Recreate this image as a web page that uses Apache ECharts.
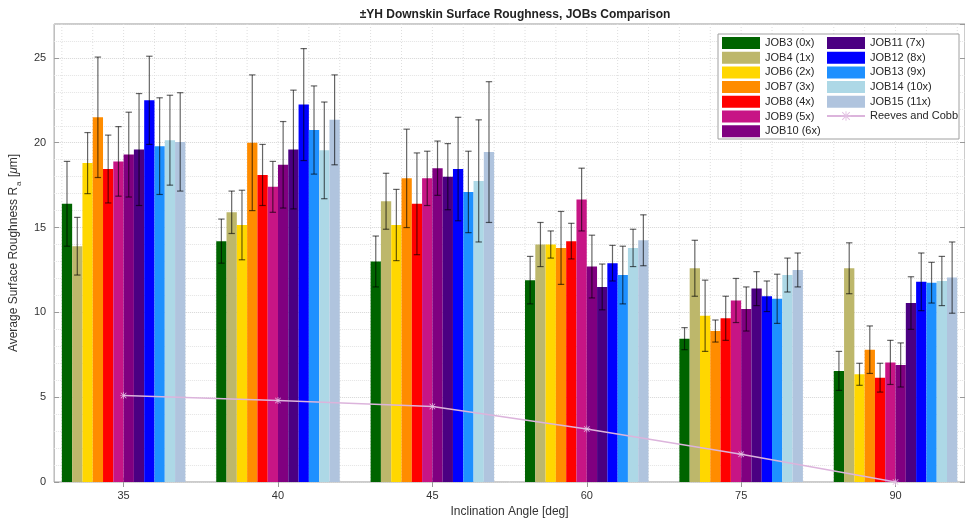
<!DOCTYPE html>
<html>
<head>
<meta charset="utf-8">
<script src="https://cdn.jsdelivr.net/npm/echarts@6/dist/echarts.min.js"></script>
<style>
  html, body { margin: 0; padding: 0; background: #fff; }
  #main { width: 965px; height: 525px; }
</style>
</head>
<body>
<div id="main"></div>
<script>
// inclination angles (categories)
var angles = ['35', '40', '45', '60', '75', '90'];

// mean Ra per angle, one array per job
var job3  = [16.4, 14.2, 13.0, 11.9, 8.45, 6.55];
var job4  = [13.9, 15.9, 16.55, 14.0, 12.6, 12.6];
var job6  = [18.8, 15.15, 15.15, 14.0, 9.8, 6.35];
var job7  = [21.5, 20.0, 17.9, 13.8, 8.9, 7.8];
var job8  = [18.45, 18.1, 16.4, 14.2, 9.65, 6.15];
var job9  = [18.9, 17.4, 17.9, 16.65, 10.7, 7.05];
var job10 = [19.3, 18.7, 18.5, 12.7, 10.2, 6.9];
var job11 = [19.6, 19.6, 18.0, 11.5, 11.4, 10.55];
var job12 = [22.5, 22.25, 18.45, 12.9, 10.95, 11.8];
var job13 = [19.8, 20.75, 17.1, 12.2, 10.8, 11.75];
var job14 = [20.15, 19.55, 17.75, 13.8, 12.2, 11.85];
var job15 = [20.05, 21.35, 19.45, 14.25, 12.5, 12.05];

// +/- error (half length of the error bar)
var job3Err  = [2.5, 1.3, 1.5, 1.4, 0.65, 1.15];
var job4Err  = [1.7, 1.25, 1.65, 1.3, 1.65, 1.5];
var job6Err  = [1.8, 2.05, 2.1, 0.8, 2.1, 0.65];
var job7Err  = [3.55, 4.0, 2.9, 2.15, 0.65, 1.4];
var job8Err  = [2.0, 1.8, 3.0, 1.05, 1.3, 0.85];
var job9Err  = [2.05, 1.5, 1.6, 1.85, 1.3, 1.3];
var job10Err = [2.5, 2.55, 1.6, 1.85, 1.3, 1.3];
var job11Err = [3.3, 3.5, 1.95, 1.35, 1.0, 1.55];
var job12Err = [2.6, 3.3, 3.05, 1.05, 0.9, 1.7];
var job13Err = [2.85, 2.6, 2.4, 1.7, 1.45, 1.2];
var job14Err = [2.65, 2.85, 3.6, 1.1, 1.0, 1.45];
var job15Err = [2.9, 2.65, 4.15, 1.5, 1.0, 2.1];

// Reeves and Cobb reference
var reevesCobb = [5.1, 4.8, 4.45, 3.13, 1.64, 0.0];

var jobNames = ['JOB3 (0x)', 'JOB4 (1x)', 'JOB6 (2x)', 'JOB7 (3x)', 'JOB8 (4x)', 'JOB9 (5x)',
  'JOB10 (6x)', 'JOB11 (7x)', 'JOB12 (8x)', 'JOB13 (9x)', 'JOB14 (10x)', 'JOB15 (11x)'];
var jobColors = ['#006400', '#BDB76B', '#FFD700', '#FF8C00', '#FF0000', '#C71585',
  '#800080', '#4B0082', '#0000FF', '#1E90FF', '#ADD8E6', '#B0C4DE'];

var means = [job3, job4, job6, job7, job8, job9, job10, job11, job12, job13, job14, job15];
var errs = [job3Err, job4Err, job6Err, job7Err, job8Err, job9Err, job10Err, job11Err, job12Err, job13Err, job14Err, job15Err];

var textColor = '#333';
var frameColor = '#999';
var catPos = angles.map(function (a, i) { return i + 1; });
var asterisk = 'path://M4.5 0L5.5 0L5.5 10L4.5 10Z M0 4.5L10 4.5L10 5.5L0 5.5Z M0.7 1.4L1.4 0.7L9.3 8.6L8.6 9.3Z M8.6 0.7L9.3 1.4L1.4 9.3L0.7 8.6Z';

var series = [];

// vertical dotted grid lines (major + minor ticks of the x axis)
var xGrid = [];
for (var k = 3; k <= 32; k++) xGrid.push([k / 5, 0]);
series.push({
  type: 'custom',
  silent: true,
  z: 1,
  data: xGrid,
  encode: { x: 0, y: 1 },
  renderItem: function (params, api) {
    var cs = params.coordSys;
    var x = api.coord([api.value(0), 0])[0];
    return {
      type: 'line',
      shape: { x1: x, y1: cs.y, x2: x, y2: cs.y + cs.height },
      style: { stroke: '#dedede', lineWidth: 1, lineDash: [1, 2] }
    };
  }
});

means.forEach(function (vals, s) {
  series.push({
    name: jobNames[s],
    type: 'bar',
    barGap: '0%',
    barCategoryGap: '20%',
    z: 2,
    itemStyle: { color: jobColors[s] },
    data: vals.map(function (v, i) { return [i + 1, v]; })
  });
});

// error bars
var errData = [];
means.forEach(function (vals, s) {
  vals.forEach(function (v, i) {
    errData.push([s, i + 1, v - errs[s][i], v + errs[s][i]]);
  });
});
series.push({
  type: 'custom',
  silent: true,
  z: 3,
  data: errData,
  encode: { x: 1, y: [2, 3] },
  renderItem: function (params, api) {
    var s = api.value(0);
    var barW = api.size([1, 0])[0] * 0.8 / jobNames.length;
    var cx = api.coord([api.value(1), 0])[0] + (s - (jobNames.length - 1) / 2) * barW;
    var yLo = api.coord([api.value(1), api.value(2)])[1];
    var yHi = api.coord([api.value(1), api.value(3)])[1];
    var st = { stroke: 'rgba(0,0,0,0.6)', lineWidth: 1.2 };
    return {
      type: 'group',
      children: [
        { type: 'line', shape: { x1: cx, y1: yLo, x2: cx, y2: yHi }, style: st },
        { type: 'line', shape: { x1: cx - 3.2, y1: yLo, x2: cx + 3.2, y2: yLo }, style: st },
        { type: 'line', shape: { x1: cx - 3.2, y1: yHi, x2: cx + 3.2, y2: yHi }, style: st }
      ]
    };
  }
});

series.push({
  name: 'Reeves and Cobb',
  type: 'line',
  z: 5,
  symbol: asterisk,
  symbolSize: 7,
  itemStyle: { color: '#e2c0e2' },
  lineStyle: { color: '#dcb4dc', width: 1.5 },
  data: reevesCobb.map(function (v, i) { return [i + 1, v]; })
});

var legendText = { fontSize: 11, color: '#262626' };
var leftNames = jobNames.slice(0, 7).map(function (n) { return { name: n, icon: 'rect' }; });
var rightNames = jobNames.slice(7).map(function (n) { return { name: n, icon: 'rect' }; });
rightNames.push({ name: 'Reeves and Cobb' });

var option = {
  animation: false,
  backgroundColor: '#fff',
  textStyle: { fontFamily: 'Liberation Sans, Arial, sans-serif' },
  title: {
    text: '\u00B1YH Downskin Surface Roughness, JOBs Comparison',
    left: 510,
    textAlign: 'center',
    top: 4,
    textStyle: { fontSize: 12, fontWeight: 'bold', color: '#222' }
  },
  grid: {
    left: 53, right: -6, top: 24, bottom: 43,
    show: true, borderColor: frameColor, borderWidth: 1, backgroundColor: '#fff'
  },
  graphic: [{
    type: 'rect',
    z: 10,
    shape: { x: 718, y: 34, width: 241, height: 105 },
    style: { fill: '#fff', stroke: '#a0a0a0', lineWidth: 1 }
  }],
  legend: [
    {
      z: 11, left: 722, top: 37, padding: 0, orient: 'vertical',
      itemWidth: 38, itemHeight: 12, itemGap: 2.7,
      textStyle: legendText, data: leftNames
    },
    {
      z: 11, left: 826, top: 37, padding: 0, orient: 'vertical',
      itemWidth: 38, itemHeight: 12, itemGap: 2.7,
      textStyle: legendText, data: rightNames
    }
  ],
  xAxis: [
    {
      type: 'value', min: 0.55, max: 6.45, position: 'bottom',
      axisLine: { show: false },
      axisTick: { show: true, inside: true, length: 5, customValues: catPos, lineStyle: { color: frameColor } },
      axisLabel: {
        customValues: catPos, fontSize: 11, color: textColor, margin: 8,
        formatter: function (v) { return angles[Math.round(v) - 1]; }
      },
      splitLine: { show: false },
      name: 'Inclination Angle [deg]', nameLocation: 'middle', nameGap: 21,
      nameTextStyle: { fontSize: 12, color: textColor }
    },
    {
      type: 'value', min: 0.55, max: 6.45, position: 'top',
      axisLine: { show: false },
      axisTick: { show: true, inside: true, length: 5, customValues: catPos, lineStyle: { color: frameColor } },
      axisLabel: { show: false },
      splitLine: { show: false }
    }
  ],
  yAxis: [
    {
      type: 'value', min: 0, max: 27, interval: 5,
      axisLine: { show: false },
      axisTick: { show: true, inside: true, length: 5, lineStyle: { color: frameColor } },
      axisLabel: { fontSize: 11, color: textColor, margin: 8, showMaxLabel: false },
      splitLine: { show: true, lineStyle: { type: 'dotted', color: '#d6d6d6' } },
      minorTick: { show: false, splitNumber: 5 },
      minorSplitLine: { show: true, lineStyle: { type: 'dotted', color: '#e4e4e4' } },
      name: '{t|Average Surface Roughness R}{s|a}{t| [}{m|\u03BC}{t|m]}',
      nameLocation: 'middle', nameGap: 30,
      nameTextStyle: {
        color: textColor,
        rich: {
          t: { fontSize: 12, color: textColor, lineHeight: 18 },
          s: { fontSize: 8, color: textColor, verticalAlign: 'bottom', padding: [0, 1, 0, 1] },
          m: { fontSize: 12, color: textColor, lineHeight: 18, fontStyle: 'italic' }
        }
      }
    },
    {
      type: 'value', min: 0, max: 27, interval: 5, position: 'right',
      axisLine: { show: false },
      axisTick: { show: true, inside: true, length: 5, lineStyle: { color: frameColor } },
      axisLabel: { show: false },
      splitLine: { show: false }
    }
  ],
  series: series
};

var chart = echarts.init(document.getElementById('main'));
chart.setOption(option);
</script>
</body>
</html>
